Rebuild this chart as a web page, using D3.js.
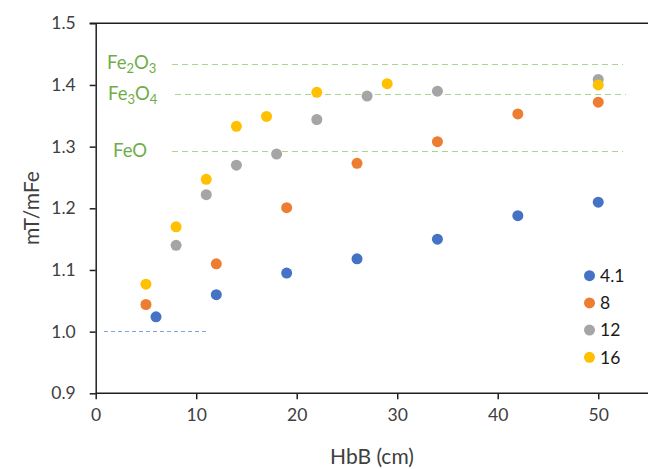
<!DOCTYPE html>
<html>
<head>
<meta charset="utf-8">
<script src="https://cdn.jsdelivr.net/npm/d3@7"></script>
<style>
  html, body { margin: 0; padding: 0; background: #fff; }
  svg { display: block; font-family: Lato, "Open Sans", sans-serif; }
</style>
</head>
<body>
<svg id="chart" width="648" height="469"></svg>
<script>
// ---- data ----
const seriesNames = ["4.1", "8", "12", "16"];
const seriesColors = ["#4472C4", "#ED7D31", "#A5A5A5", "#FFC000"];
const xBlue = [6, 12, 19, 26, 34, 42, 50];
const yBlue = [1.024, 1.060, 1.095, 1.118, 1.150, 1.188, 1.210];
const xOrange = [5, 12, 19, 26, 34, 42, 50];
const yOrange = [1.044, 1.110, 1.201, 1.273, 1.308, 1.353, 1.372];
const xGray = [8, 11, 14, 18, 22, 27, 34, 50];
const yGray = [1.140, 1.222, 1.270, 1.288, 1.344, 1.382, 1.390, 1.409];
const xYellow = [5, 8, 11, 14, 17, 22, 29, 50];
const yYellow = [1.077, 1.170, 1.247, 1.333, 1.349, 1.388, 1.402, 1.400];
const xTicks = [0, 10, 20, 30, 40, 50];
const yTicks = [0.9, 1.0, 1.1, 1.2, 1.3, 1.4, 1.5];
const refNames = ["Fe2O3", "Fe3O4", "FeO"];
const refValues = [1.433, 1.384, 1.292];
const refStart = [7.6, 7.9, 7.6];
const refEnd = [52.5, 52.8, 52.5];
const baseLineY = 1.0;
const baseLineX = [0.8, 11.2];

// ---- layout ----
const svg = d3.select("#chart");
const x = d3.scaleLinear().domain([0, 55]).range([95.7, 648.5]);
const y = d3.scaleLinear().domain([0.9, 1.5]).range([393.3, 23.3]);
const axisColor = "#1f1f1f";
const textColor = "#404040";

// top border line
svg.append("line")
  .attr("x1", x(0) - 6).attr("x2", 648)
  .attr("y1", y(1.5)).attr("y2", y(1.5))
  .attr("stroke", axisColor).attr("stroke-width", 1.5);

// reference dashed lines
refNames.forEach((n, i) => {
  svg.append("line")
    .attr("x1", x(refStart[i])).attr("x2", x(refEnd[i]))
    .attr("y1", y(refValues[i])).attr("y2", y(refValues[i]))
    .attr("stroke", "#A8D68E").attr("stroke-width", 1)
    .attr("shape-rendering", "crispEdges")
    .attr("stroke-dasharray", "6,4");
});
svg.append("line")
  .attr("x1", x(baseLineX[0])).attr("x2", x(baseLineX[1]))
  .attr("y1", y(baseLineY)).attr("y2", y(baseLineY))
  .attr("stroke", "#7FA4E8").attr("stroke-width", 1)
  .attr("shape-rendering", "crispEdges")
  .attr("stroke-dasharray", "4,3");

// reference labels
const labelPos = [[107, 69], [108, 100], [113, 157]];
const labelParts = [
  [["Fe", false], ["2", true], ["O", false], ["3", true]],
  [["Fe", false], ["3", true], ["O", false], ["4", true]],
  [["FeO", false]]
];
labelParts.forEach((parts, i) => {
  const t = svg.append("text")
    .attr("x", labelPos[i][0]).attr("y", labelPos[i][1])
    .attr("fill", "#70AD47").attr("font-size", 18.5);
  parts.forEach(p => {
    const ts = t.append("tspan").text(p[0]);
    if (p[1]) ts.attr("font-size", 13).attr("dy", 4);
    else ts.attr("dy", t.selectAll("tspan").size() > 1 ? -4 : 0);
  });
});

// axes
const xAxis = svg.append("g")
  .attr("transform", `translate(0,${y(0.9)})`)
  .call(d3.axisBottom(x).tickValues(xTicks).tickSize(6).tickPadding(9).tickSizeOuter(0));
const yAxis = svg.append("g")
  .attr("transform", `translate(${x(0)},0)`)
  .call(d3.axisLeft(y).tickValues(yTicks).tickFormat(d3.format(".1f")).tickSize(6).tickPadding(14).tickSizeOuter(0));
[xAxis, yAxis].forEach(g => {
  g.select(".domain").attr("stroke", axisColor).attr("stroke-width", 1.5);
  g.selectAll(".tick line").attr("stroke", axisColor).attr("stroke-width", 1.5);
  g.selectAll(".tick text").attr("fill", textColor).attr("font-size", 17.5)
    .attr("font-family", "Lato, 'Open Sans', sans-serif");
});
xAxis.select(".domain").attr("d", `M${x(0)},0H648`);

// axis titles
svg.append("text")
  .attr("x", 372).attr("y", 464).attr("text-anchor", "middle")
  .attr("fill", textColor).attr("font-size", 21).text("HbB (cm)");
svg.append("text")
  .attr("transform", "translate(39,208) rotate(-90)").attr("text-anchor", "middle")
  .attr("fill", textColor).attr("font-size", 21).text("mT/mFe");

// points
const series = [
  [xBlue, yBlue], [xOrange, yOrange], [xGray, yGray], [xYellow, yYellow]
];
series.forEach((s, si) => {
  svg.append("g").selectAll("circle")
    .data(s[0].map((v, i) => [v, s[1][i]]))
    .join("circle")
    .attr("cx", d => x(d[0])).attr("cy", d => y(d[1]))
    .attr("r", 5.5).attr("fill", seriesColors[si]);
});

// legend
const legend = svg.append("g");
seriesNames.forEach((n, i) => {
  const ly = 275.7 + i * 27.2;
  legend.append("circle").attr("cx", 589.5).attr("cy", ly).attr("r", 5.5).attr("fill", seriesColors[i]);
  legend.append("text").attr("x", 600).attr("y", ly).attr("dy", "0.36em")
    .attr("fill", "#1a1a1a").attr("font-size", 17.5).text(n);
});
</script>
</body>
</html>
